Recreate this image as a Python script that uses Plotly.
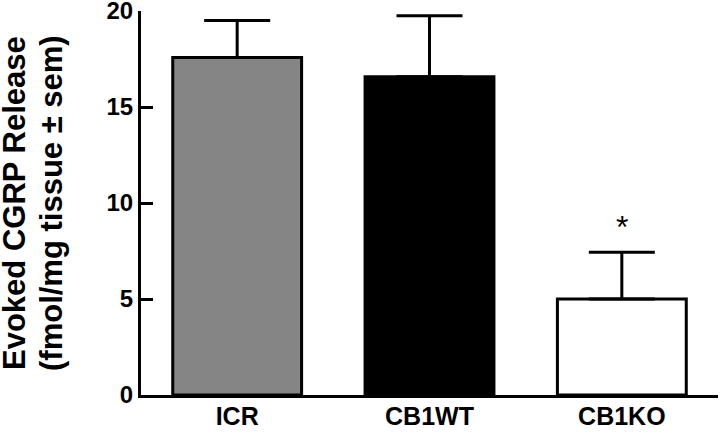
import plotly.graph_objects as go

categories = ["ICR", "CB1WT", "CB1KO"]
means = [17.58, 16.57, 5.0]
sems = [1.92, 3.18, 2.43]
bar_colors = ["#858585", "#000000", "#ffffff"]
y_ticks = [0, 5, 10, 15, 20]
y_title_lines = ["Evoked CGRP Release", "(fmol/mg tissue ± sem)"]
star_label = "*"
star_y = 7.7

FONT = "Liberation Sans, Arial, sans-serif"

fig = go.Figure()
fig.add_trace(go.Bar(
    x=categories, y=means,
    marker=dict(color=bar_colors, line=dict(color="black", width=3)),
    width=0.67,
    error_y=dict(type="data", array=sems, arrayminus=[0] * len(sems),
                 symmetric=False, color="black", thickness=3, width=33),
    showlegend=False,
))

fig.add_annotation(x=categories[2], y=star_y, text=star_label, showarrow=False,
                   xref="x", yref="y", yanchor="bottom",
                   font=dict(family=FONT, size=32, color="black"))

# y-axis title as two rotated lines (tighter line spacing than plotly's default)
for line, shift in zip(y_title_lines, [-127, -90]):
    fig.add_annotation(x=0, y=0.5, xref="paper", yref="paper",
                       text="<b>" + line + "</b>",
                       textangle=-90, showarrow=False, xanchor="center", yanchor="middle",
                       xshift=shift,
                       font=dict(family=FONT, size=31, color="black"))

fig.update_layout(
    width=720, height=434,
    margin=dict(l=141, r=2, t=11, b=39, autoexpand=False),
    paper_bgcolor="white", plot_bgcolor="white",
    font=dict(family=FONT, color="black"),
    bargap=0.33,
)
fig.update_xaxes(
    range=[-0.5, 2.5], showline=True, linecolor="black", linewidth=3,
    ticks="", showgrid=False, zeroline=False, automargin=False,
    ticklabelstandoff=-3, ticklabeloverflow="allow",
    tickfont=dict(family=FONT, size=25, color="black", weight="bold"),
)
fig.update_yaxes(
    range=[0, 20], tickvals=y_ticks, showline=True, linecolor="black", linewidth=3,
    ticks="inside", ticklen=12, tickwidth=3, tickcolor="black",
    showgrid=False, zeroline=False, automargin=False, ticklabeloverflow="allow",
    tickfont=dict(family=FONT, size=24, color="black", weight="bold"),
)

# remove the browser's default 8px body margin so the figure fills the window
fig.write_html("out.html", config={"displayModeBar": False},
               post_script="document.body.style.margin='0';")
